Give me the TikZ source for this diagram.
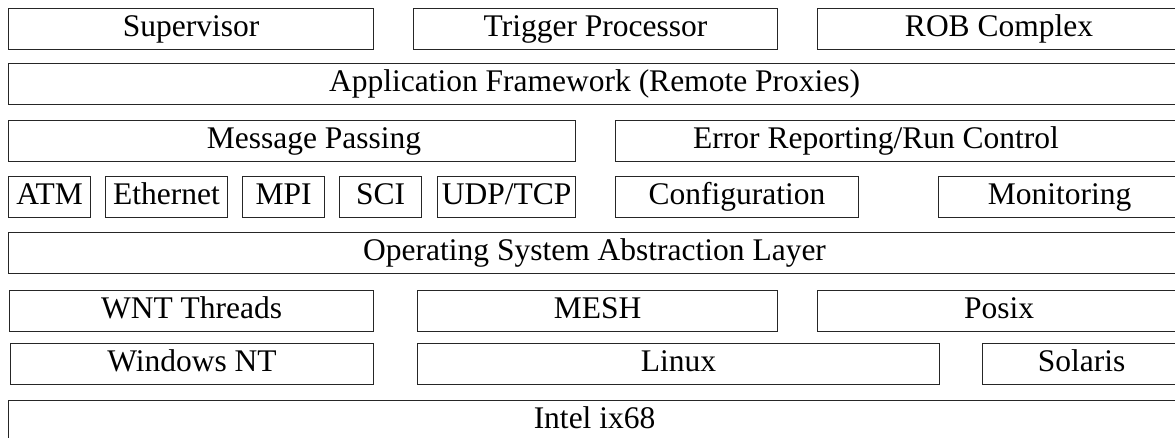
\documentclass[tikz,border=0pt]{standalone}
\usepackage{fontspec}
\setmainfont{Liberation Serif}
\begin{document}
\begin{tikzpicture}[x=1pt,y=-1pt,
  blk/.style={draw=black!85,line width=1.1pt,anchor=north west,inner xsep=0pt,inner ysep=0pt,
    text height=28pt,text depth=13pt,font=\fontsize{31.5}{36}\selectfont}]
\useasboundingbox[fill=white] (0,0) rectangle (1175,437);
% row 1
\node[blk,minimum width=365pt] (sup)  at (8,8)   {Supervisor};
\node[blk,minimum width=364pt] (trig) at (413,8) {Trigger Processor};
\node[blk,minimum width=363pt] (rob)  at (817,8) {ROB Complex};
% row 2
\node[blk,minimum width=1172pt] (app) at (8,63) {Application Framework (Remote Proxies)};
% row 3
\node[blk,minimum width=567pt] (msg) at (8,120)   {\hspace*{44pt}Message Passing};
\node[blk,minimum width=565pt] (err) at (615,120) {\hspace*{-44pt}Error Reporting/Run Control};
% row 4
\node[blk,minimum width=82pt]  (atm)  at (8,176)   {ATM};
\node[blk,minimum width=122pt] (eth)  at (105,176) {Ethernet};
\node[blk,minimum width=82pt]  (mpi)  at (242,176) {MPI};
\node[blk,minimum width=82pt]  (sci)  at (339,176) {SCI};
\node[blk,minimum width=138pt] (udp)  at (437,176) {UDP/TCP};
\node[blk,minimum width=243pt] (conf) at (615,176) {Configuration};
\node[blk,minimum width=242pt] (mon)  at (938,176) {Monitoring};
% row 5
\node[blk,minimum width=1172pt] (osal) at (8,232) {Operating System Abstraction Layer};
% row 6
\node[blk,minimum width=364pt] (wnt)   at (9,290)   {WNT Threads};
\node[blk,minimum width=360pt] (mesh)  at (417,290) {MESH};
\node[blk,minimum width=363pt] (posix) at (817,290) {Posix};
% row 7
\node[blk,minimum width=363pt] (winnt) at (10,343)  {Windows NT};
\node[blk,minimum width=522pt] (linux) at (417,343) {Linux};
\node[blk,minimum width=198pt] (sol)   at (982,343) {Solaris};
% row 8
\node[blk,minimum width=1172pt] (intel) at (8,400) {Intel ix68};
\end{tikzpicture}
\end{document}
